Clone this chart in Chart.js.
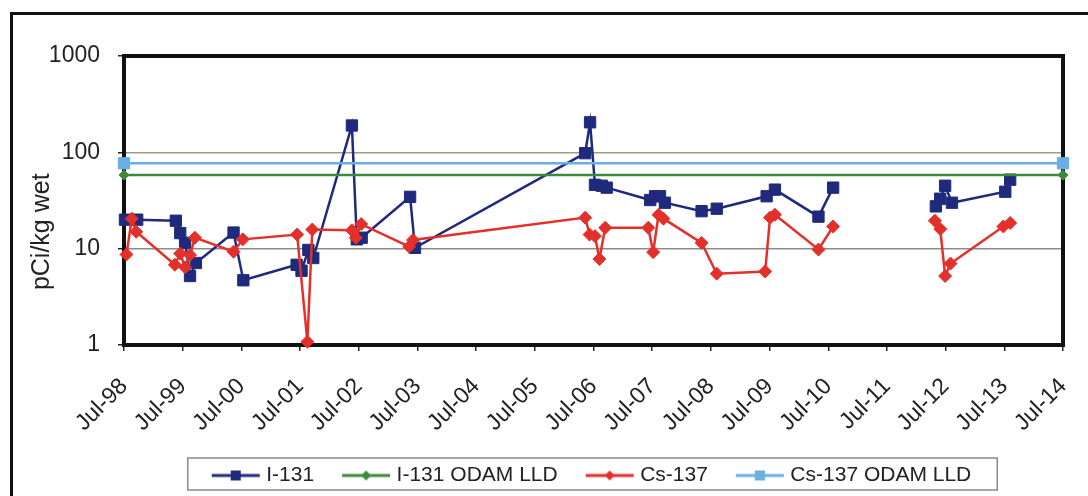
<!DOCTYPE html>
<html>
<head>
<meta charset="utf-8">
<script src="https://cdn.jsdelivr.net/npm/chart.js@4.4.1/dist/chart.umd.min.js"></script>
<style>
  html, body { margin: 0; padding: 0; background: #fff; }
  #wrap { position: relative; width: 1088px; height: 496px; overflow: hidden; }
  #chart { display: block; }
  #frame { position: absolute; left: 10px; top: 12px; width: 1100px; height: 500px;
           border-left: 3px solid #111; border-top: 3px solid #111; pointer-events: none; }
</style>
</head>
<body>
<div id="wrap">
  <canvas id="chart" width="1088" height="496"></canvas>
  <div id="frame"></div>
</div>
<script>
// months counted from Jul-98
const xLabels = ["Jul-98", "Jul-99", "Jul-00", "Jul-01", "Jul-02", "Jul-03", "Jul-04", "Jul-05",
  "Jul-06", "Jul-07", "Jul-08", "Jul-09", "Jul-10", "Jul-11", "Jul-12", "Jul-13", "Jul-14"];
const yTicks = [1, 10, 100, 1000];

const i131Months = [0.2, 2.7, 10.6, 11.5, 12.5, 13.5, 14.7, 22.4, 24.4, 35.3, 36.3, 37.7, 38.7,
  46.6, 47.6, 48.6, 58.5, 59.5, 94.3, 95.3, 96.3, 97.7, 98.7, 107.6, 108.6, 109.6, 110.6,
  118.1, 121.2, 131.4, 133.1, 142, 145, 155, 166, 166.9, 167.9, 169.3, 180.2, 181.2];
const i131Values = [20, 20, 19.5, 14.5, 11.5, 5.2, 7.1, 14.7, 4.7, 6.8, 5.9, 9.7, 8.0,
  190, 12.5, 13, 34.5, 10.2, 98, 205, 46, 45, 43, 32, 35, 35, 30,
  24.5, 26, 35, 41, 21.5, 43, null, 27.5, 33, 45, 30, 39, 52];

const cs137Months = [0.5, 1.6, 2.5, 10.4, 11.5, 12.5, 13.5, 14.5, 22.4, 24.3, 35.4, 37.5, 38.5,
  46.6, 47.4, 48.5, 58.3, 59.1, 94.3, 95.2, 96.3, 97.2, 98.4, 107.2, 108.2, 109.3, 110.3,
  118.1, 121.2, 131.1, 132.1, 133.1, 142, 145, 155, 165.8, 166.9, 167.9, 169, 179.8, 181.2];
const cs137Values = [8.7, 20.5, 15, 6.8, 8.9, 6.4, 8.6, 13, 9.3, 12.5, 14, 1.08, 15.8,
  15.5, 13, 18, 10.5, 12.3, 21, 14, 13.5, 7.8, 16.5, 16.5, 9.2, 22.5, 20.5,
  11.5, 5.5, 5.8, 21, 22.5, 9.8, 17, null, 19.5, 16, 5.2, 7, 17, 18.5];

const lldMonths = [0, 192];
const i131Lld = [58, 58];
const cs137Lld = [77, 77];

const FONT = "'Liberation Sans', Arial, sans-serif";
const NAVY = "#1f2a7c";
const GREEN = "#3b8b3b";
const RED = "#e3302a";
const LIGHTBLUE = "#6aafe2";

function toPoints(months, values) {
    return months.map((m, i) => ({ x: m, y: values[i] }));
}

function makeIcon(color, shape) {
    const c = document.createElement("canvas");
    c.width = 50;
    c.height = 14;
    const g = c.getContext("2d");
    g.strokeStyle = color;
    g.lineWidth = 3;
    g.beginPath();
    g.moveTo(1, 7);
    g.lineTo(49, 7);
    g.stroke();
    g.fillStyle = color;
    if (shape === "rect") {
        g.fillRect(20, 2, 10, 10);
    } else {
        g.beginPath();
        g.moveTo(25, 2); g.lineTo(30, 7); g.lineTo(25, 12); g.lineTo(20, 7);
        g.closePath();
        g.fill();
    }
    return c;
}

const icons = [makeIcon(NAVY, "rect"), makeIcon(GREEN, "diamond"), makeIcon(RED, "diamond"), makeIcon(LIGHTBLUE, "rect")];

const plotFrame = {
    id: "plotFrame",
    beforeDatasetsDraw(chart) {
        const { ctx, chartArea: a } = chart;
        ctx.save();
        ctx.strokeStyle = "#111";
        ctx.lineWidth = 4;
        ctx.strokeRect(a.left, a.top, a.right - a.left, a.bottom - a.top);
        ctx.restore();
    },
    afterDraw(chart) {
        const hb = chart.legend && chart.legend.legendHitBoxes;
        if (!hb || !hb.length) return;
        const left = Math.min(...hb.map(b => b.left)) - 28;
        const right = Math.max(...hb.map(b => b.left + b.width)) + 26;
        const top = hb[0].top - 7;
        const bottom = hb[0].top + hb[0].height + 4;
        const ctx = chart.ctx;
        ctx.save();
        ctx.strokeStyle = "#8a8a8a";
        ctx.lineWidth = 1.5;
        ctx.strokeRect(left, top, right - left, bottom - top);
        ctx.restore();
    }
};

new Chart(document.getElementById("chart").getContext("2d"), {
    type: "line",
    data: {
        datasets: [
            {
                label: "I-131",
                data: toPoints(i131Months, i131Values),
                borderColor: NAVY, backgroundColor: NAVY,
                pointBorderColor: NAVY, pointBackgroundColor: NAVY,
                borderWidth: 2.5, pointStyle: "rect", pointRadius: 8, pointBorderWidth: 1,
                order: 4, clip: false
            },
            {
                label: "I-131 ODAM LLD",
                data: toPoints(lldMonths, i131Lld),
                borderColor: GREEN, backgroundColor: GREEN,
                pointBorderColor: GREEN, pointBackgroundColor: GREEN,
                borderWidth: 2.5, pointStyle: "rectRot", pointRadius: 5, pointBorderWidth: 1,
                order: 3, clip: false
            },
            {
                label: "Cs-137",
                data: toPoints(cs137Months, cs137Values),
                borderColor: RED, backgroundColor: RED,
                pointBorderColor: RED, pointBackgroundColor: RED,
                borderWidth: 2.5, pointStyle: "rectRot", pointRadius: 6.5, pointBorderWidth: 1,
                order: 2, clip: false
            },
            {
                label: "Cs-137 ODAM LLD",
                data: toPoints(lldMonths, cs137Lld),
                borderColor: LIGHTBLUE, backgroundColor: LIGHTBLUE,
                pointBorderColor: LIGHTBLUE, pointBackgroundColor: LIGHTBLUE,
                borderWidth: 2.5, pointStyle: "rect", pointRadius: 8, pointBorderWidth: 1,
                order: 1, clip: false
            }
        ]
    },
    options: {
        responsive: false,
        animation: false,
        spanGaps: false,
        layout: { padding: { top: 56, right: 25, left: 0, bottom: 0 } },
        scales: {
            x: {
                type: "linear",
                min: 0,
                max: 192,
                afterFit(s) {
                    s.height = 88;
                    s.paddingLeft = 0;
                    s.paddingRight = 0;
                },
                border: { display: false },
                grid: { drawOnChartArea: false, tickLength: 6, tickColor: "#222", lineWidth: 1.5 },
                ticks: {
                    stepSize: 12,
                    autoSkip: false,
                    minRotation: 45,
                    maxRotation: 45,
                    padding: 22,
                    color: "#222",
                    font: { family: FONT, size: 23 },
                    callback: (v) => xLabels[Math.round(v / 12)]
                }
            },
            y: {
                type: "logarithmic",
                min: 1,
                max: 1000,
                afterFit(s) { s.width = 124; },
                afterBuildTicks(s) { s.ticks = yTicks.map(v => ({ value: v })); },
                border: { display: false },
                grid: {
                    color: (c) => c.tick && c.tick.value === 100 ? "#9d9d7d" : (c.tick && c.tick.value === 10 ? "#8c8c8c" : "rgba(0,0,0,0)"),
                    lineWidth: 1.5,
                    tickLength: 6,
                    tickColor: "#222"
                },
                ticks: {
                    padding: 18,
                    color: "#222",
                    font: { family: FONT, size: 23 },
                    callback: (v) => String(v)
                },
                title: {
                    display: true,
                    // trailing spaces push the label down the axis as in the original
                    text: "pCi/kg wet         ",
                    color: "#222",
                    font: { family: FONT, size: 25 },
                    padding: { top: 27, bottom: 0 }
                }
            }
        },
        plugins: {
            tooltip: { enabled: false },
            legend: {
                position: "bottom",
                fullSize: false,
                labels: {
                    usePointStyle: true,
                    pointStyleWidth: 40,
                    padding: 32,
                    color: "#222",
                    font: { family: FONT, size: 21 },
                    generateLabels: (chart) => chart.data.datasets.map((ds, i) => ({
                        text: ds.label,
                        pointStyle: icons[i],
                        datasetIndex: i,
                        hidden: false,
                        fontColor: "#222",
                        lineWidth: 0,
                        strokeStyle: "rgba(0,0,0,0)",
                        fillStyle: "rgba(0,0,0,0)"
                    }))
                }
            }
        }
    },
    plugins: [plotFrame]
});
</script>
</body>
</html>
